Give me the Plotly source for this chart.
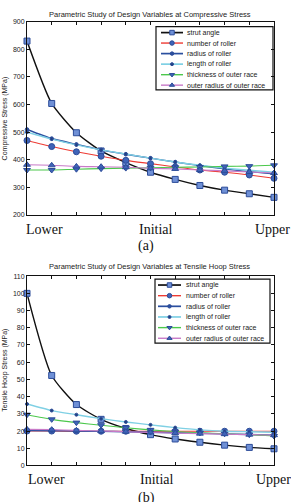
import plotly.graph_objects as go

W, H = 291, 502

positions = list(range(11))
x_tick_labels = ["Lower", "Initial", "Upper"]
series_names = ["strut angle", "number of roller", "radius of roller",
                "length of roller", "thickness of outer race", "outer radius of outer race"]

# (a) Compressive stress, MPa
comp_strut = [830, 604, 498, 432, 390, 355, 329, 307, 290, 277, 264]
comp_number = [470, 448, 429, 413, 398, 386, 374, 363, 355, 345, 333]
comp_radius = [510, 477, 456, 436, 420, 406, 392, 379, 367, 357, 349]
comp_length = [500, 475, 454, 436, 421, 406, 392, 380, 370, 362, 355]
comp_thick = [363, 363, 366, 368, 370, 371, 373, 374, 376, 377, 380]
comp_outer = [382, 380, 376, 375, 373, 369, 367, 363, 360, 356, 352]

# (b) Tensile hoop stress, MPa
hoop_strut = [100, 52.3, 35.4, 26.8, 21.5, 17.9, 15.4, 13.5, 11.8, 10.5, 9.7]
hoop_number = [20.0, 20.0, 19.9, 19.9, 19.9, 19.9, 19.9, 19.9, 19.9, 19.9, 19.9]
hoop_radius = [20.3, 20.2, 20.0, 19.8, 19.6, 19.3, 19.0, 18.7, 18.3, 18.0, 17.6]
hoop_length = [35.7, 31.9, 29.5, 27.2, 25.3, 23.6, 22.0, 20.7, 19.9, 19.6, 19.3]
hoop_thick = [29.5, 26.8, 24.9, 23.4, 21.9, 20.7, 19.7, 19.0, 18.4, 17.9, 17.1]
hoop_outer = [21.0, 20.8, 20.4, 20.0, 19.6, 19.2, 18.8, 18.5, 18.2, 17.9, 17.6]

comp_series = [comp_strut, comp_number, comp_radius, comp_length, comp_thick, comp_outer]
hoop_series = [hoop_strut, hoop_number, hoop_radius, hoop_length, hoop_thick, hoop_outer]

# style: line color, marker symbol, marker size, marker fill, line width
styles = [
    ("#111111", "square", 6, "#6f90d6", 1.4),
    ("#ee3b33", "circle", 6, "#3f64b8", 1.1),
    ("#2a4f9f", "circle", 3.5, "#2a4f9f", 1.4),
    ("#7fd0e4", "circle", 3, "#22407f", 1.4),
    ("#4cc84c", "triangle-down", 6, "#3f64b8", 1.1),
    ("#c87ac8", "triangle-up", 6, "#3f64b8", 1.1),
]
MARKER_EDGE = "#2c4c99"


def px(x):
    return x / W


def py(y):
    return 1 - y / H


fig = go.Figure()

for data, xa, ya in [(comp_series, "x", "y"), (hoop_series, "x2", "y2")]:
    for name, vals, st in zip(series_names, data, styles):
        col, sym, size, fill, lw = st
        fig.add_trace(go.Scatter(
            x=positions, y=vals, name=name, mode="lines+markers",
            line=dict(color=col, width=lw, shape="spline", smoothing=0.6),
            marker=dict(symbol=sym, size=size, color=fill,
                        line=dict(color=MARKER_EDGE, width=1)),
            xaxis=xa, yaxis=ya, showlegend=False, cliponaxis=False))

# custom legends drawn on a pixel-coordinate overlay axis
legend_boxes = [
    dict(x0=156, x1=273, y0=23, y1=87, rows=[29, 39.6, 50.3, 61, 71.7, 82.3],
         lx0=161, lx1=183, tx=185),
    dict(x0=155, x1=270, y0=279, y1=344, rows=[285, 295.8, 306.6, 317.4, 328.2, 339],
         lx0=158, lx1=181, tx=184),
]
shapes = []
annotations = []
for lb in legend_boxes:
    shapes.append(dict(type="rect", xref="paper", yref="paper",
                       x0=px(lb["x0"]), x1=px(lb["x1"]), y0=py(lb["y1"]), y1=py(lb["y0"]),
                       line=dict(color="#111111", width=1.2), fillcolor="rgba(0,0,0,0)",
                       layer="above"))
    for name, row, st in zip(series_names, lb["rows"], styles):
        col, sym, size, fill, lw = st
        fig.add_trace(go.Scatter(
            x=[lb["lx0"], lb["lx1"]], y=[row, row], mode="lines",
            line=dict(color=col, width=lw + 0.3), xaxis="x3", yaxis="y3",
            showlegend=False, hoverinfo="skip", cliponaxis=False))
        fig.add_trace(go.Scatter(
            x=[(lb["lx0"] + lb["lx1"]) / 2], y=[row], mode="markers",
            marker=dict(symbol=sym, size=min(size, 4.5), color=fill,
                        line=dict(color=MARKER_EDGE, width=1)),
            xaxis="x3", yaxis="y3", showlegend=False, hoverinfo="skip", cliponaxis=False))
        annotations.append(dict(text=name, xref="paper", yref="paper",
                                x=px(lb["tx"]), y=py(row), xanchor="left", yanchor="middle",
                                showarrow=False, font=dict(size=7, color="#222222",
                                                           family="Liberation Sans, Arial")))

sans = "Liberation Sans, Arial"
serif = "Liberation Serif, Times New Roman"

# titles
annotations += [
    dict(text="Parametric Study of Design Variables at Compressive Stress", xref="paper",
         yref="paper", x=px(150), y=py(10.5), showarrow=False, xanchor="center",
         yanchor="middle", font=dict(size=7.5, family=sans, color="#222222")),
    dict(text="Parametric Study of Design Variables at Tensile Hoop Stress", xref="paper",
         yref="paper", x=px(150), y=py(266), showarrow=False, xanchor="center",
         yanchor="middle", font=dict(size=7.5, family=sans, color="#222222")),
    dict(text="Compressive Stress (MPa)", xref="paper", yref="paper", x=px(5), y=py(116),
         textangle=-90, showarrow=False, xanchor="center", yanchor="middle",
         font=dict(size=7, family=sans, color="#222222")),
    dict(text="Tensile Hoop Stress (MPa)", xref="paper", yref="paper", x=px(5), y=py(372),
         textangle=-90, showarrow=False, xanchor="center", yanchor="middle",
         font=dict(size=7, family=sans, color="#222222")),
    dict(text="(a)", xref="paper", yref="paper", x=px(146), y=py(245.5), showarrow=False,
         xanchor="center", yanchor="middle", font=dict(size=14, family=serif, color="#111111")),
    dict(text="(b)", xref="paper", yref="paper", x=px(146), y=py(501), showarrow=False,
         xanchor="center", yanchor="middle", font=dict(size=14, family=serif, color="#111111")),
]
# category labels under the x axes
for ycen, centers in [(229, [44.5, 156, 272.5]), (482, [46, 157, 273.5])]:
    for lab, cx in zip(x_tick_labels, centers):
        annotations.append(dict(text=lab, xref="paper", yref="paper", x=px(cx), y=py(ycen),
                                showarrow=False, xanchor="center", yanchor="middle",
                                font=dict(size=14, family=serif, color="#111111")))

axis_common = dict(showline=True, linecolor="#111111", linewidth=1, mirror="ticks",
                   ticks="inside", ticklen=3, tickcolor="#111111", showgrid=False,
                   zeroline=False)
xdom = [px(27), px(274)]

fig.update_layout(
    width=W, height=H, autosize=False,
    margin=dict(l=0, r=0, t=0, b=0, pad=0),
    paper_bgcolor="white", plot_bgcolor="rgba(0,0,0,0)",
    showlegend=False,
    xaxis=dict(domain=xdom, range=[0, 10], tickvals=positions, showticklabels=False,
               anchor="y", **axis_common),
    yaxis=dict(domain=[py(214), py(18)], range=[200, 900], dtick=100, anchor="x",
               tickfont=dict(size=7, family=sans, color="#222222"), **axis_common),
    xaxis2=dict(domain=xdom, range=[0, 10], tickvals=positions, showticklabels=False,
                anchor="y2", **axis_common),
    yaxis2=dict(domain=[py(468), py(276)], range=[0, 110], dtick=10, anchor="x2",
                tickfont=dict(size=7, family=sans, color="#222222"), **axis_common),
    xaxis3=dict(domain=[0, 1], range=[0, W], visible=False, anchor="y3", fixedrange=True),
    yaxis3=dict(domain=[0, 1], range=[H, 0], visible=False, anchor="x3", fixedrange=True),
    shapes=shapes,
    annotations=annotations,
)

fig.write_html("out.html")
